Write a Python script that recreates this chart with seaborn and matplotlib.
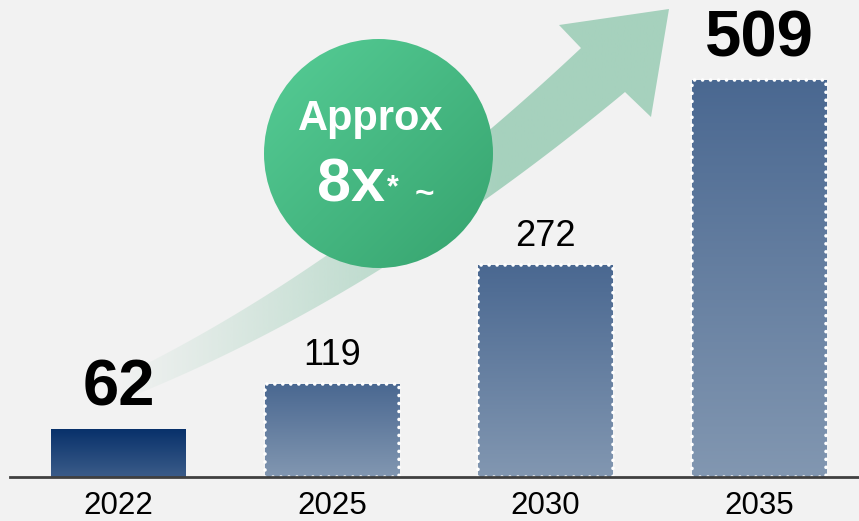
import numpy as np
import pandas as pd
import matplotlib
matplotlib.use("Agg")
import matplotlib.pyplot as plt
from matplotlib.patches import Polygon, Ellipse
from matplotlib.colors import to_rgb
import seaborn as sns

# ---- data ----
years = ["2022", "2025", "2030", "2035"]
values = [62, 119, 272, 509]
bold_label = [True, False, False, True]
dashed_edge = [False, True, True, True]
bubble_line1 = "Approx"
bubble_big = "8x"
bubble_star = "*"
bubble_tilde = "~"

plt.rcParams['font.family'] = ['Liberation Sans', 'DejaVu Sans']

BG = "#f2f2f2"
W, H = 859, 521
BASE = 477.0  # baseline pixel row from top
fig = plt.figure(figsize=(W / 100, H / 100), dpi=100, facecolor=BG)
ax = fig.add_axes([0, (H - BASE) / H, 1, BASE / H])
ax.set_facecolor(BG)

df = pd.DataFrame({"year": years, "value": values})
sns.barplot(data=df, x="year", y="value", ax=ax, width=0.63,
            color="#4a6891", saturation=1, zorder=2)

# pixel -> data helpers (layout only)
X0, XS = 118.5, 213.5
YS = 0.779
def dx(px):
    return (px - X0) / XS
def dy(py):
    return (BASE - py) / YS

# ---- gradient bars ----
first_top, first_bot = to_rgb("#07306a"), to_rgb("#3b5c89")
oth_top, oth_bot = to_rgb("#4a6891"), to_rgb("#8297b1")
for i, p in enumerate(ax.patches):
    x, w, h = p.get_x(), p.get_width(), p.get_height()
    top, bot = (first_top, first_bot) if i == 0 else (oth_top, oth_bot)
    t = np.linspace(0, 1, 256)[:, None]
    grad = (np.array(top)[None, :] * (1 - t) + np.array(bot)[None, :] * t)[:, None, :]
    im = ax.imshow(grad, extent=[x, x + w, 0, h], origin="upper",
                   aspect="auto", zorder=2.1, interpolation="bilinear")
    im.set_clip_path(p)
    p.set_facecolor("none")
    if dashed_edge[i]:
        p.set_edgecolor("white")
        p.set_linewidth(2.6)
        p.set_linestyle((0, (0.01, 2.2)))
        p.set_capstyle("round")
    else:
        p.set_edgecolor("none")
    p.set_zorder(3)

# ---- growth arrow (decoration) ----
def yu(x):
    return 362 - 0.5164 * (x - 150) - 0.000492 * (x - 150) ** 2
def yl(x):
    return 390 - 0.4164 * (x - 147) - 0.000433 * (x - 147) ** 2
xu = np.linspace(118, 581, 120)
xl = np.linspace(625, 118, 120)
pts = [(dx(a), dy(yu(a))) for a in xu]
pts += [(dx(559), dy(25)), (dx(669), dy(9)), (dx(651), dy(117))]
pts += [(dx(a), dy(yl(a))) for a in xl]
arrow = Polygon(pts, closed=True, facecolor="none", edgecolor="none")
ax.add_patch(arrow)
xs = np.linspace(100, 680, 400)
alpha = np.clip((xs - 115) / (500 - 115), 0, 1)
col = np.array(to_rgb("#a6d1bd"))
agrad = np.zeros((1, len(xs), 4))
agrad[0, :, :3] = col
agrad[0, :, 3] = alpha
aim = ax.imshow(agrad, extent=[dx(100), dx(680), dy(420), dy(0)],
                aspect="auto", zorder=1, interpolation="bilinear")
aim.set_clip_path(arrow)

# ---- bubble ----
cx, cy, r = 378.5, 153.5, 114.5
circ = Ellipse((dx(cx), dy(cy)), 2 * r / XS, 2 * r / YS,
               facecolor="none", edgecolor="none")
ax.add_patch(circ)
n = 300
gx, gy = np.meshgrid(np.linspace(0, 1, n), np.linspace(0, 1, n))
tt = np.clip((gx + gy) / 2, 0, 1)[..., None]
c1, c2 = np.array(to_rgb("#56cd96")), np.array(to_rgb("#36a36e"))
cgrad = c1 * (1 - tt) + c2 * tt
cim = ax.imshow(cgrad, extent=[dx(cx - r), dx(cx + r), dy(cy + r), dy(cy - r)],
                origin="upper", aspect="auto", zorder=5, interpolation="bilinear")
cim.set_clip_path(circ)

ax.text(dx(371), dy(130), bubble_line1, color="white", fontsize=30,
        fontweight="bold", ha="center", va="baseline", zorder=6)
ax.text(dx(351), dy(202), bubble_big, color="white", fontsize=44,
        fontweight="bold", ha="center", va="baseline", zorder=6)
ax.text(dx(393), dy(196), bubble_star, color="white", fontsize=22,
        fontweight="bold", ha="center", va="baseline", zorder=6)
ax.text(dx(424), dy(203), bubble_tilde, color="white", fontsize=24,
        fontweight="bold", ha="center", va="baseline", zorder=6)

# ---- value labels ----
for i, v in enumerate(values):
    if bold_label[i]:
        ax.annotate(str(v), xy=(i, v), xytext=(0, 17), textcoords="offset points",
                    ha="center", va="baseline", fontsize=47, fontweight="bold",
                    color="black", zorder=7)
    else:
        ax.annotate(str(v), xy=(i, v), xytext=(0, 13.7), textcoords="offset points",
                    ha="center", va="baseline", fontsize=26, color="black", zorder=7)

# ---- axes ----
ax.axhline(0, xmin=10 / W, xmax=1, color="#404040", lw=2, zorder=4, clip_on=False)
ax.set_xlim(dx(0), dx(W))
ax.set_ylim(0, dy(0))
ax.set_xticks(range(len(years)))
ax.set_xticklabels(years, fontsize=22.5, color="black")
ax.tick_params(axis="x", length=0, pad=10)
ax.set_yticks([])
ax.set_xlabel("")
ax.set_ylabel("")
for s in ax.spines.values():
    s.set_visible(False)

fig.savefig("out.png", dpi=100, facecolor=BG)
